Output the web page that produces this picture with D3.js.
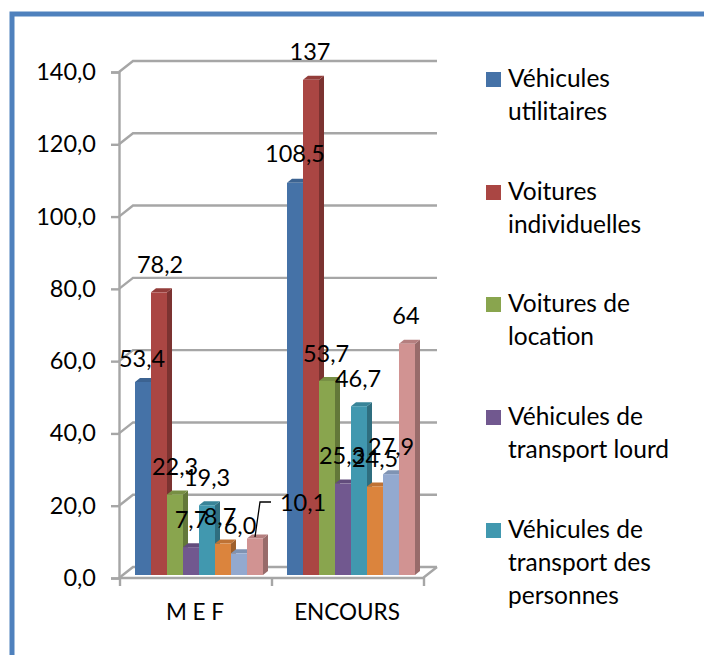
<!DOCTYPE html>
<html>
<head>
<meta charset="utf-8">
<script src="https://d3js.org/d3.v7.min.js"></script>
<style>
  html, body { margin: 0; padding: 0; background: #fff; }
  svg { display: block; }
  text { font-family: Lato, "Open Sans", sans-serif; fill: #000; }
</style>
</head>
<body>
<div id="container"></div>
<script>
const categories = ["M E F", "ENCOURS"];
const mefValues = [53.4, 78.2, 22.3, 7.7, 19.3, 8.7, 6.0, 10.1];
const encoursValues = [108.5, 137, 53.7, 25.3, 46.7, 24.5, 27.9, 64];
const mefLabels = ["53,4", "78,2", "22,3", "7,7", "19,3", "8,7", "6,0", "10,1"];
const encoursLabels = ["108,5", "137", "53,7", "25,3", "46,7", "24,5", "27,9", "64"];
const yTicks = [0, 20, 40, 60, 80, 100, 120, 140];
const seriesColors = ["#4572a7", "#aa4643", "#89a54e", "#71588f", "#4198af", "#db843d", "#93a9cf", "#d19392"];
const legendNames = [
  ["Véhicules", "utilitaires"],
  ["Voitures", "individuelles"],
  ["Voitures de", "location"],
  ["Véhicules de", "transport lourd"],
  ["Véhicules de", "transport des", "personnes"]
];

// hand placed labels, the original overlaps them the same way
const mefLabelPos = [[142, 367], [160, 273], [175, 475], [191, 528], [207, 486], [220, 525], [240, 534], [303, 511]];
const encoursLabelPos = [[295, 162], [310, 60], [326, 362], [342, 464], [358, 387], [375, 467], [391, 455], [406, 324]];

const w = 704;
const h = 655;
const fontSize = 23.5;
const depthX = 14;
const depthY = 11;
const barDepthX = 5;
const barDepthY = 4;

const svg = d3.select("#container")
  .append("svg")
  .attr("width", w)
  .attr("height", h);

// frame, only top and left are visible in the crop
svg.append("path")
  .attr("d", "M12,655V14H704")
  .attr("fill", "none")
  .attr("stroke", "#4f81bd")
  .attr("stroke-width", 5);

const yScale = d3.scaleLinear().domain([0, 140]).range([578, 72]);
const xScale = d3.scaleBand().domain(categories).range([119, 423]).paddingInner(0.158).paddingOuter(0.079);
const xOuter = d3.scaleBand().domain(categories).range([119, 423]);
const barScale = d3.scaleBand().domain(d3.range(8)).range([0, xScale.bandwidth()]);

const grey = "#a6a6a6";
const lineGroup = svg.append("g").attr("stroke", grey).attr("stroke-width", 2.4).attr("fill", "none");

// back wall grid
lineGroup.selectAll(".grid")
  .data(yTicks)
  .enter()
  .append("path")
  .attr("class", "grid")
  .attr("d", (d) => "M119," + yScale(d) + "l" + depthX + "," + (-depthY) + "H" + (423 + depthX));

// floor
lineGroup.append("path")
  .attr("d", "M119,578H423l" + depthX + "," + (-depthY));

// category ticks
lineGroup.selectAll(".cat-tick")
  .data([119, 119 + xOuter.step(), 119 + 2 * xOuter.step()])
  .enter()
  .append("line")
  .attr("class", "cat-tick")
  .attr("x1", (d) => d + 1)
  .attr("x2", (d) => d + 1)
  .attr("y1", 578)
  .attr("y2", 586);

const numFormat = d3.formatLocale({ decimal: ",", thousands: " ", grouping: [3], currency: ["", ""] }).format(".1f");
const yAxis = d3.axisLeft(yScale).tickValues(yTicks).tickFormat(numFormat).tickSize(8).tickPadding(15);
const yG = svg.append("g")
  .attr("transform", "translate(119,0)")
  .call(yAxis);
yG.select(".domain").attr("stroke", grey).attr("stroke-width", 2.4);
yG.selectAll(".tick line").attr("stroke", grey).attr("stroke-width", 2.4);
yG.selectAll("text").style("font-size", fontSize + "px").attr("fill", "#000");

const xAxis = d3.axisBottom(xOuter).tickSize(0).tickPadding(26);
const xG = svg.append("g")
  .attr("transform", "translate(0,578)")
  .call(xAxis);
xG.select(".domain").remove();
xG.selectAll("text").style("font-size", "22.5px").attr("fill", "#000");

const groups = [
  { cat: categories[0], values: mefValues, labels: mefLabels, pos: mefLabelPos },
  { cat: categories[1], values: encoursValues, labels: encoursLabels, pos: encoursLabelPos }
];

const barBase = yScale(0) - 3;

groups.forEach((group) => {
  const left = xScale(group.cat) + 4;
  const bars = svg.append("g");
  const data = group.values.map((v, i) => ({ v: v, i: i }));
  const bw = barScale.bandwidth();

  // drawn in order so each bar's front covers the previous side
  const bar = bars.selectAll("g")
    .data(data)
    .enter()
    .append("g");

  bar.append("path")
    .attr("fill", (d) => d3.color(seriesColors[d.i]).darker(0.9))
    .attr("d", (d) => {
      const x = left + barScale(d.i) + bw;
      const y = yScale(d.v) - 3;
      return "M" + x + "," + y + "l" + barDepthX + "," + (-barDepthY) + "V" + (barBase - barDepthY) + "L" + x + "," + barBase + "Z";
    });

  bar.append("path")
    .attr("fill", (d) => d3.color(seriesColors[d.i]).darker(0.4))
    .attr("d", (d) => {
      const x = left + barScale(d.i);
      const y = yScale(d.v) - 3;
      return "M" + x + "," + y + "l" + barDepthX + "," + (-barDepthY) + "h" + bw + "l" + (-barDepthX) + "," + barDepthY + "Z";
    });

  bar.append("rect")
    .attr("x", (d) => left + barScale(d.i))
    .attr("y", (d) => yScale(d.v) - 3)
    .attr("width", bw)
    .attr("height", (d) => barBase - yScale(d.v) + 3)
    .attr("fill", (d) => seriesColors[d.i]);
});

// leader line for 10,1
svg.append("path")
  .attr("d", "M255,537L260,502H271")
  .attr("fill", "none")
  .attr("stroke", "#000")
  .attr("stroke-width", 1.3);

groups.forEach((group) => {
  svg.append("g").selectAll("text")
    .data(group.labels)
    .enter()
    .append("text")
    .attr("x", (d, i) => group.pos[i][0])
    .attr("y", (d, i) => group.pos[i][1])
    .attr("text-anchor", "middle")
    .style("font-size", fontSize + "px")
    .text((d) => d);
});

// legend, the original only fits the first five series
const legendY = [72, 185, 297, 410, 523];
const legend = svg.append("g").selectAll("g")
  .data(legendNames)
  .enter()
  .append("g")
  .attr("transform", (d, i) => "translate(486," + legendY[i] + ")");

legend.append("rect")
  .attr("width", 15)
  .attr("height", 15)
  .attr("fill", (d, i) => seriesColors[i]);

legend.selectAll("text")
  .data((d) => d)
  .enter()
  .append("text")
  .attr("x", 22)
  .attr("y", (d, i) => 15 + i * 33)
  .style("font-size", "24.5px")
  .text((d) => d);
</script>
</body>
</html>
